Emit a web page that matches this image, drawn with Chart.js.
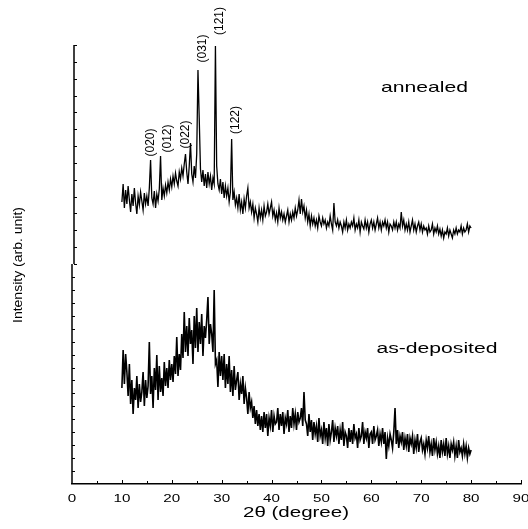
<!DOCTYPE html>
<html><head><meta charset="utf-8">
<script src="https://cdn.jsdelivr.net/npm/chart.js@4/dist/chart.umd.min.js"></script>
<style>html,body{margin:0;padding:0;background:#fff;}canvas{display:block;}</style>
</head><body>
<canvas id="c" width="528" height="529"></canvas>
<script>
// 2-theta scan positions (degree)
const twoTheta = [
10,10.25,10.5,10.75,11,11.25,11.5,11.75,12,12.25,12.5,12.75,13,13.25,13.5,13.75,14,14.25,14.5,14.75,
15,15.25,15.5,15.75,16,16.25,16.5,16.75,17,17.25,17.5,17.75,18,18.25,18.5,18.75,19,19.25,19.5,19.75,
20,20.25,20.5,20.75,21,21.25,21.5,21.75,22,22.25,22.5,22.75,23,23.25,23.5,23.75,24,24.25,24.5,24.75,
25,25.25,25.5,25.75,26,26.25,26.5,26.75,27,27.25,27.5,27.75,28,28.25,28.5,28.75,29,29.25,29.5,29.75,
30,30.25,30.5,30.75,31,31.25,31.5,31.75,32,32.25,32.5,32.75,33,33.25,33.5,33.75,34,34.25,34.5,34.75,
35,35.25,35.5,35.75,36,36.25,36.5,36.75,37,37.25,37.5,37.75,38,38.25,38.5,38.75,39,39.25,39.5,39.75,
40,40.25,40.5,40.75,41,41.25,41.5,41.75,42,42.25,42.5,42.75,43,43.25,43.5,43.75,44,44.25,44.5,44.75,
45,45.25,45.5,45.75,46,46.25,46.5,46.75,47,47.25,47.5,47.75,48,48.25,48.5,48.75,49,49.25,49.5,49.75,
50,50.25,50.5,50.75,51,51.25,51.5,51.75,52,52.25,52.5,52.75,53,53.25,53.5,53.75,54,54.25,54.5,54.75,
55,55.25,55.5,55.75,56,56.25,56.5,56.75,57,57.25,57.5,57.75,58,58.25,58.5,58.75,59,59.25,59.5,59.75,
60,60.25,60.5,60.75,61,61.25,61.5,61.75,62,62.25,62.5,62.75,63,63.25,63.5,63.75,64,64.25,64.5,64.75,
65,65.25,65.5,65.75,66,66.25,66.5,66.75,67,67.25,67.5,67.75,68,68.25,68.5,68.75,69,69.25,69.5,69.75,
70,70.25,70.5,70.75,71,71.25,71.5,71.75,72,72.25,72.5,72.75,73,73.25,73.5,73.75,74,74.25,74.5,74.75,
75,75.25,75.5,75.75,76,76.25,76.5,76.75,77,77.25,77.5,77.75,78,78.25,78.5,78.75,79,79.25,79.5,79.75,
80
];

// annealed film (offset upper trace), arb. units
const annealed = [
282,300,276,294, 280,298,284,272, 290,278,296,281, 270,288,279,292, 283,274,291,280,
288,278,296,324, 286,280,293,276, 290,283,295,328, 284,296,288,299, 291,302,294,305,
297,308,300,311, 303,298,312,305, 316,308,320,330, 312,300,318,341, 310,302,318,306,
330,414,366,315, 302,314,298,310, 296,312,300,308, 294,306,300,438, 318,300,294,305,
290,302,286,298, 288,296,282,292, 345,284,292,279, 286,276,290,274, 282,270,285,276,
288,296,276,282, 272,280,266,276, 270,262,276,266, 274,264,278,268, 272,280,270,276,
282,268,274,264, 271,262,276,266, 272,264,270,262, 268,274,262,270, 264,272,266,276,
268,274,284,270, 285,272,278,266, 274,262,270,258, 268,260,266,258, 264,256,268,262,
258,266,260,264, 256,262,258,268, 260,254,281,262, 258,264,256,262, 258,252,262,256,
264,254,260,256, 262,258,266,254, 260,256,264,252, 262,258,255,264, 256,262,252,260,
264,256,262,254, 260,266,256,262, 254,262,258,264, 256,262,252,260, 258,254,262,256,
262,254,260,256, 272,258,264,254, 260,254,262,252, 258,264,254,260, 252,258,262,254,
260,252,258,254, 256,250,258,252, 254,260,250,256, 252,258,250,255, 248,254,246,252,
250,256,248,254, 250,246,254,250, 256,250,254,252, 258,250,256,252, 254,260,252,258,
256
];

// as-deposited film (lower trace), arb. units
const asDeposited = [
96,134,100,130, 112,88,120,80, 104,70,96,84, 108,76,100,82, 92,112,78,104,
86,98,142,90, 108,76,116,94, 129,84,118,92, 106,88,122,98, 116,96,124,104,
120,102,128,110, 147,108,130,114, 150,126,172,132, 158,128,166,140, 154,120,168,136,
176,132,162,140, 170,128,158,146, 164,187,140,160, 150,132,194,120, 124,97,132,108,
128,104,130,96, 120,100,128,92, 114,88,118,94, 104,112,84,100, 90,108,80,96,
86,70,92,76, 82,66,78,60, 74,58,70,54, 68,52,72,56, 70,48,66,58,
74,52,68,60, 62,76,54,70, 58,72,50,66, 60,74,52,68, 56,76,60,70,
54,72,62,66, 76,58,92,64, 60,48,70,52, 64,44,62,50, 58,42,66,48,
54,40,62,46, 56,38,60,44, 52,64,42,56, 48,58,40,54, 44,62,38,52,
48,36,56,42, 54,40,60,46, 50,36,56,44, 48,62,40,52, 46,56,36,50,
52,40,58,44, 48,54,38,50, 42,56,40,52, 25,46,38,50, 44,36,52,76,
40,54,36,48, 42,52,34,46, 38,50,32,46, 40,48,30,44, 36,50,32,42,
46,34,40,30, 44,36,48,32, 40,28,46,34, 42,30,38,26, 44,32,40,28,
46,30,38,26, 40,34,42,28, 38,26,44,32, 36,28,40,30, 38,26,36,30,
34
];

const xTickValues = [0,10,20,30,40,50,60,70,80,90];
const xTickLabels = ['0','10','20','30','40','50','60','70','80','90'];
const peakLabels = ['(020)','(012)','(022)','(031)','(121)','(122)'];
const sampleLabels = ['annealed','as-deposited'];
const xTitle = '2\u03b8 (degree)';
const yTitle = 'Intensity (arb. unit)';

const FONT = '"Liberation Sans", Arial, Helvetica, sans-serif';

function drawText(ctx, s, x, y, size, opts) {
  opts = opts || {};
  ctx.save();
  ctx.translate(x, y);
  if (opts.rot) ctx.rotate(opts.rot);
  ctx.font = size + 'px ' + FONT;
  ctx.textAlign = opts.align || 'center';
  ctx.textBaseline = opts.base || 'alphabetic';
  let sx = opts.sx || 1;
  if (opts.w) sx = opts.w / ctx.measureText(s).width;
  ctx.scale(sx, 1);
  ctx.fillStyle = '#000';
  ctx.fillText(s, 0, 0);
  ctx.restore();
}

const decoPlugin = {
  id: 'deco',
  afterDraw(chart) {
    const ctx = chart.ctx, a = chart.chartArea, xs = chart.scales.x;
    const mid = Math.round((a.top + a.bottom) / 2);
    ctx.save();
    ctx.strokeStyle = '#000';
    // y axis (two stacked panels)
    ctx.lineWidth = 1.5;
    ctx.beginPath(); ctx.moveTo(a.left + 2, a.top + 1); ctx.lineTo(a.left + 2, mid); ctx.stroke();
    ctx.beginPath(); ctx.moveTo(a.left, mid); ctx.lineTo(a.left, a.bottom); ctx.stroke();
    ctx.lineWidth = 1;
    for (let k = 0; k <= 13; k++) {
      const y = Math.round(a.top + 1 + k * (mid - a.top - 1) / 13) + 0.5;
      ctx.beginPath(); ctx.moveTo(a.left + 2, y); ctx.lineTo(a.left + 5, y); ctx.stroke();
    }
    for (let k = 1; k < 17; k++) {
      const y = Math.round(mid + k * (a.bottom - mid) / 17) + 0.5;
      ctx.beginPath(); ctx.moveTo(a.left, y); ctx.lineTo(a.left + 3, y); ctx.stroke();
    }
    // x ticks (inside) every 5 degrees
    for (let v = 5; v <= 90; v += 5) {
      const x = Math.round(xs.getPixelForValue(v)) + 0.5;
      const len = (v % 10 === 0) ? 4 : 3;
      ctx.beginPath(); ctx.moveTo(x, a.bottom); ctx.lineTo(x, a.bottom - len); ctx.stroke();
    }
    // x tick labels
    xTickValues.forEach((v, i) => {
      drawText(ctx, xTickLabels[i], xs.getPixelForValue(v), 502, 11, {sx: 1.38});
    });
    // axis titles
    drawText(ctx, xTitle, 296, 516.5, 14, {w: 106});
    drawText(ctx, yTitle, 18.5, 265, 13, {rot: -Math.PI / 2, base: 'middle', w: 116});
    // sample labels
    drawText(ctx, sampleLabels[0], 424.5, 91.5, 15, {w: 87});
    drawText(ctx, sampleLabels[1], 437, 352.5, 14, {w: 121});
    // peak (hkl) labels, rotated
    const pk = [[151, 142.5], [168, 138.5], [186, 134.5], [203, 48.5], [220, 21], [236, 120]];
    peakLabels.forEach((s, i) => {
      drawText(ctx, s, pk[i][0], pk[i][1], 12, {rot: -Math.PI / 2, base: 'middle'});
    });
    ctx.restore();
  }
};

new Chart(document.getElementById('c'), {
  type: 'line',
  data: {
    labels: twoTheta,
    datasets: [
      {label: sampleLabels[0], data: annealed, borderColor: '#000', borderWidth: 1.3, pointRadius: 0, tension: 0, fill: false},
      {label: sampleLabels[1], data: asDeposited, borderColor: '#000', borderWidth: 1.6, pointRadius: 0, tension: 0, fill: false}
    ]
  },
  options: {
    responsive: false,
    animation: false,
    events: [],
    layout: {autoPadding: false, padding: {left: 72, right: 7, top: 44, bottom: 0}},
    plugins: {legend: {display: false}, tooltip: {enabled: false}, title: {display: false}},
    scales: {
      x: {
        type: 'linear', min: 0, max: 90,
        grid: {display: false, drawTicks: false},
        border: {display: true, color: '#000', width: 1.5},
        ticks: {display: false, stepSize: 10},
        afterFit(s) { s.height = 45; }
      },
      y: {
        type: 'linear', min: 0, max: 440, display: false
      }
    }
  },
  plugins: [decoPlugin]
});
</script>
</body></html>
